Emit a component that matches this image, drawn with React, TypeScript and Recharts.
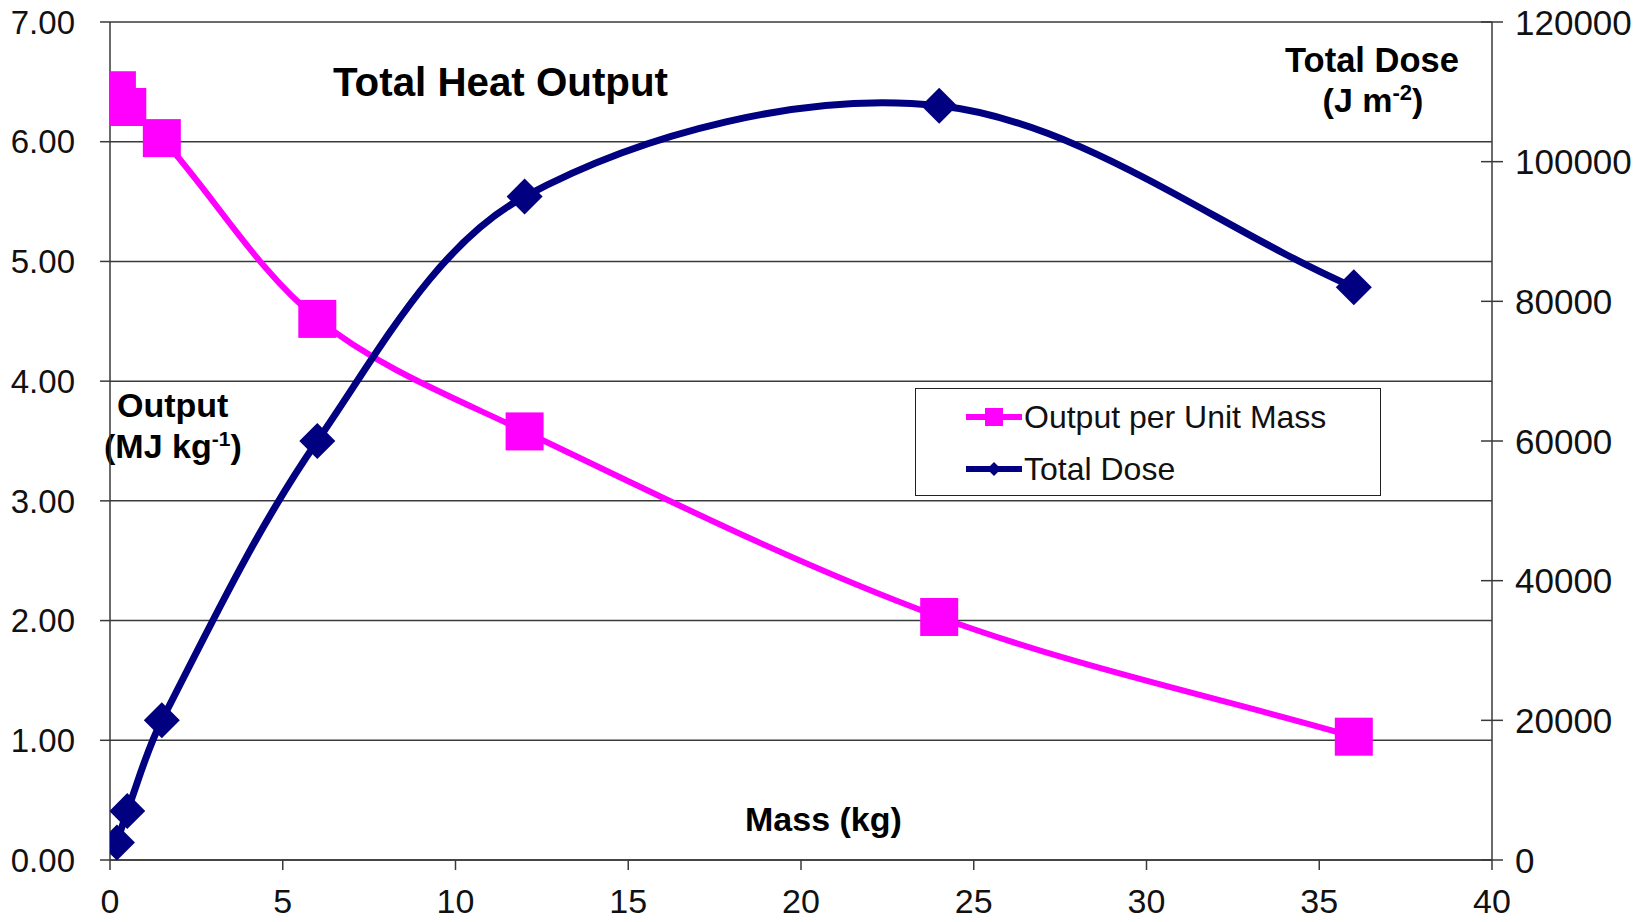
import { LineChart, Line, XAxis, YAxis, CartesianGrid, Legend, Customized } from 'recharts';

// values
const massKg = [0.2, 0.5, 1.5, 6, 12, 24, 36];
const outputPerUnitMass = [6.43, 6.29, 6.03, 4.52, 3.58, 2.03, 1.03];
const totalDose = [2500, 7000, 20000, 60000, 95000, 108000, 82000];

const massTicks = [0, 5, 10, 15, 20, 25, 30, 35, 40];
const outputTicks = [0, 1, 2, 3, 4, 5, 6, 7];
const doseTicks = [0, 20000, 40000, 60000, 80000, 100000, 120000];

const chartData = massKg.map((m, i) => ({
    mass: m,
    output: outputPerUnitMass[i],
    dose: totalDose[i],
}));

const FONT = '"Liberation Sans", Arial, sans-serif';
const AXIS = '#3a3a3a';
const PINK = '#FF00FF';
const NAVY = '#000080';

// Excel-ish smoothed line: cubic beziers with tangents weighted by chord length
function excelSmooth(context: any) {
    let pts: number[][] = [];
    return {
        areaStart() {},
        areaEnd() {},
        lineStart() {
            pts = [];
        },
        point(x: number, y: number) {
            pts.push([+x, +y]);
        },
        lineEnd() {
            const n = pts.length;
            if (!n) return;
            context.moveTo(pts[0][0], pts[0][1]);
            const dist = (a: number[], b: number[]) => Math.hypot(b[0] - a[0], b[1] - a[1]);
            for (let i = 0; i < n - 1; i++) {
                const p0 = pts[Math.max(i - 1, 0)];
                const p1 = pts[i];
                const p2 = pts[i + 1];
                const p3 = pts[Math.min(i + 2, n - 1)];
                const d01 = dist(p0, p1);
                const d12 = dist(p1, p2);
                const d23 = dist(p2, p3);
                const f1 = d01 + d12 > 0 ? d12 / (d01 + d12) / 3 : 0;
                const f2 = d12 + d23 > 0 ? d12 / (d12 + d23) / 3 : 0;
                context.bezierCurveTo(
                    p1[0] + (p2[0] - p0[0]) * f1,
                    p1[1] + (p2[1] - p0[1]) * f1,
                    p2[0] - (p3[0] - p1[0]) * f2,
                    p2[1] - (p3[1] - p1[1]) * f2,
                    p2[0],
                    p2[1]
                );
            }
        },
    };
}

const SquareDot = (props: any) => {
    const { cx, cy } = props;
    if (cx == null || cy == null) return null;
    return <rect x={cx - 19} y={cy - 19} width={38} height={38} fill={PINK} />;
};

const DiamondDot = (props: any) => {
    const { cx, cy } = props;
    if (cx == null || cy == null) return null;
    const r = 18;
    return <path d={`M${cx},${cy - r}L${cx + r},${cy}L${cx},${cy + r}L${cx - r},${cy}Z`} fill={NAVY} />;
};

// right axis: tick marks cross the axis line
const RightTick = (props: any) => {
    const { x, y, payload } = props;
    return (
        <g>
            <line x1={x - 34} x2={x - 12} y1={y} y2={y} stroke={AXIS} strokeWidth={1.5} />
            <text x={x} y={y} dy="0.36em" textAnchor="start" fontSize={35} fontFamily={FONT} fill="#111">
                {payload.value}
            </text>
        </g>
    );
};

const LegendBox = () => (
    <div
        style={{
            width: 466,
            height: 108,
            border: '1.5px solid #222',
            background: '#fff',
            fontFamily: FONT,
            fontSize: 32,
            color: '#111',
            boxSizing: 'border-box',
        }}
    >
        <div style={{ display: 'flex', alignItems: 'center', height: 52, marginTop: 2 }}>
            <svg width={108} height={30} style={{ flex: 'none' }}>
                <line x1={50} x2={106} y1={15} y2={15} stroke={PINK} strokeWidth={6} />
                <rect x={69} y={6} width={18} height={18} fill={PINK} />
            </svg>
            <span>Output per Unit Mass</span>
        </div>
        <div style={{ display: 'flex', alignItems: 'center', height: 52 }}>
            <svg width={108} height={30} style={{ flex: 'none' }}>
                <line x1={50} x2={106} y1={15} y2={15} stroke={NAVY} strokeWidth={6} />
                <path d="M78,8L85,15L78,22L71,15Z" fill={NAVY} />
            </svg>
            <span>Total Dose</span>
        </div>
    </div>
);

const Annotations = () => (
    <g fontFamily={FONT} fontWeight="bold" fill="#000">
        <text x={333} y={96} fontSize={40} textLength={335} lengthAdjust="spacingAndGlyphs">
            Total Heat Output
        </text>
        <text x={1372} y={72} fontSize={34.5} textAnchor="middle">
            Total Dose
        </text>
        <text x={1373} y={112} fontSize={34} textAnchor="middle">
            (J m<tspan fontSize={22} dy={-12}>-2</tspan>
            <tspan dy={12}>)</tspan>
        </text>
        <text x={117} y={417} fontSize={34}>
            Output
        </text>
        <text x={104} y={458} fontSize={34}>
            (MJ kg<tspan fontSize={21} dy={-12}>-1</tspan>
            <tspan dy={12}>)</tspan>
        </text>
        <text x={745} y={831} fontSize={34}>
            Mass (kg)
        </text>
    </g>
);

export default function App() {
    return (
        <div style={{ position: 'absolute', left: 0, top: 0, width: 1648, height: 922, background: '#fff' }}>
            <LineChart width={1648} height={922} data={chartData} margin={{ top: 22, right: 0, bottom: 0, left: 0 }}>
                <CartesianGrid yAxisId="output" vertical={false} stroke={AXIS} strokeWidth={1.5} />
                <XAxis
                    dataKey="mass"
                    type="number"
                    domain={[0, 40]}
                    ticks={massTicks}
                    height={62}
                    tickSize={10}
                    tickMargin={19}
                    stroke={AXIS}
                    strokeWidth={1.5}
                    tick={{ fontSize: 34, fontFamily: FONT, fill: '#111' }}
                    allowDataOverflow
                />
                <YAxis
                    yAxisId="output"
                    orientation="left"
                    domain={[0, 7]}
                    ticks={outputTicks}
                    width={110}
                    tickSize={10}
                    tickMargin={25}
                    stroke={AXIS}
                    strokeWidth={1.5}
                    tickFormatter={(v: number) => v.toFixed(2)}
                    tick={{ fontSize: 33, fontFamily: FONT, fill: '#111' }}
                    interval={0}
                />
                <YAxis
                    yAxisId="dose"
                    orientation="right"
                    domain={[0, 120000]}
                    ticks={doseTicks}
                    width={156}
                    tickSize={11}
                    tickMargin={12}
                    stroke={AXIS}
                    strokeWidth={1.5}
                    tickLine={false}
                    tick={<RightTick />}
                    interval={0}
                />
                <Legend
                    layout="vertical"
                    align="center"
                    verticalAlign="middle"
                    content={() => <LegendBox />}
                    wrapperStyle={{ position: 'absolute', left: 915, top: 388, width: 468, height: 110 }}
                />
                <Line
                    yAxisId="output"
                    dataKey="output"
                    name="Output per Unit Mass"
                    type={excelSmooth as any}
                    stroke={PINK}
                    strokeWidth={6}
                    dot={<SquareDot />}
                    activeDot={false}
                    isAnimationActive={false}
                />
                <Line
                    yAxisId="dose"
                    dataKey="dose"
                    name="Total Dose"
                    type={excelSmooth as any}
                    stroke={NAVY}
                    strokeWidth={7}
                    dot={<DiamondDot />}
                    activeDot={false}
                    isAnimationActive={false}
                />
                <Customized component={Annotations} />
            </LineChart>
        </div>
    );
}
